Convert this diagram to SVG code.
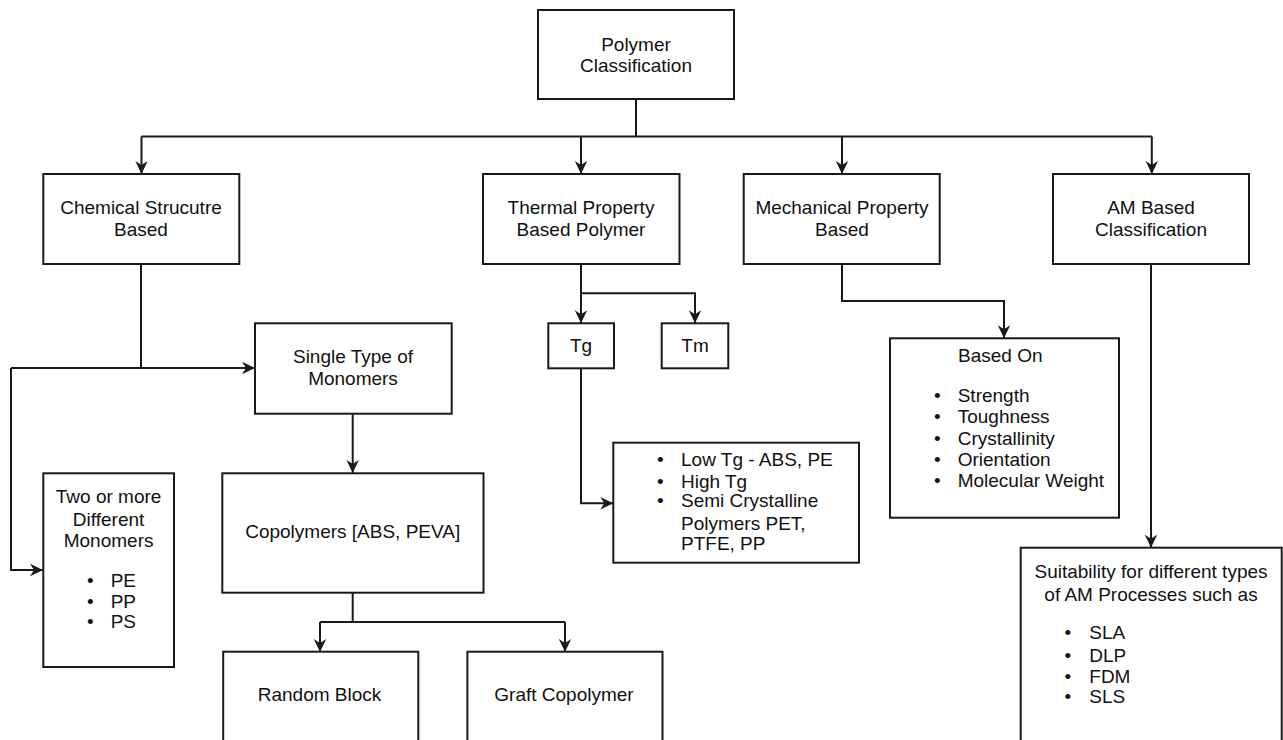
<svg xmlns="http://www.w3.org/2000/svg" width="1283" height="740" viewBox="0 0 1283 740">
<style>
.box{fill:#fff;stroke:#1a1a1a;stroke-width:2}
.t{font-family:"Liberation Sans",Arial,sans-serif;font-size:19px;fill:#111;text-anchor:middle}
.l{font-family:"Liberation Sans",Arial,sans-serif;font-size:19px;fill:#111}
.c{fill:none;stroke:#1a1a1a;stroke-width:2}
</style>
<defs>
<marker id="arr" markerUnits="userSpaceOnUse" markerWidth="14" markerHeight="14" viewBox="0 0 14 14" refX="13" refY="7" orient="auto">
<path d="M0,0.8 L13,7 L0,13.2 L4,7 z" fill="#1a1a1a"/>
</marker>
</defs>
<rect width="1283" height="740" fill="#fff"/>
<g id="connectors">
<path class="c" d="M636,99 V136.5"/>
<path class="c" d="M141.5,136.5 H1151.8"/>
<path class="c" d="M141.5,136.5 V174" marker-end="url(#arr)"/>
<path class="c" d="M581,136.5 V174" marker-end="url(#arr)"/>
<path class="c" d="M842,136.5 V174" marker-end="url(#arr)"/>
<path class="c" d="M1151.8,136.5 V174" marker-end="url(#arr)"/>
<path class="c" d="M141,264 V368"/>
<path class="c" d="M11,368 H255" marker-end="url(#arr)"/>
<path class="c" d="M11,368 V570 H43" marker-end="url(#arr)"/>
<path class="c" d="M352.7,414 V473" marker-end="url(#arr)"/>
<path class="c" d="M352.7,593 V622"/>
<path class="c" d="M320,622 H565"/>
<path class="c" d="M320,622 V652" marker-end="url(#arr)"/>
<path class="c" d="M565,622 V652" marker-end="url(#arr)"/>
<path class="c" d="M581,264 V323.3" marker-end="url(#arr)"/>
<path class="c" d="M581,293.3 H695 V323.3" marker-end="url(#arr)"/>
<path class="c" d="M581,368.3 V503.3 H613.3" marker-end="url(#arr)"/>
<path class="c" d="M842,264 V301 H1004 V338.3" marker-end="url(#arr)"/>
<path class="c" d="M1151,264 V547.7" marker-end="url(#arr)"/>
</g>
<g id="polymer">
<rect class="box" x="538" y="10" width="196" height="89"/>
<text class="t" x="636" y="50.5">Polymer</text>
<text class="t" x="636" y="72">Classification</text>
</g>
<g id="chemical">
<rect class="box" x="43.3" y="174" width="196" height="90"/>
<text class="t" x="141" y="213.5">Chemical Strucutre</text>
<text class="t" x="141" y="236">Based</text>
</g>
<g id="thermal">
<rect class="box" x="483" y="174" width="196.5" height="90"/>
<text class="t" x="581" y="213.5">Thermal Property</text>
<text class="t" x="581" y="236">Based Polymer</text>
</g>
<g id="mechanical">
<rect class="box" x="743.7" y="174" width="196" height="90"/>
<text class="t" x="842" y="213.5">Mechanical Property</text>
<text class="t" x="842" y="236">Based</text>
</g>
<g id="am">
<rect class="box" x="1053" y="174" width="196" height="90"/>
<text class="t" x="1151" y="213.5">AM Based</text>
<text class="t" x="1151" y="236">Classification</text>
</g>
<g id="single">
<rect class="box" x="255" y="323.3" width="196.7" height="90.4"/>
<text class="t" x="353" y="362.7">Single Type of</text>
<text class="t" x="353" y="385">Monomers</text>
</g>
<g id="twoormore">
<rect class="box" x="43.3" y="473.3" width="130.7" height="193.7"/>
<text class="t" x="108.6" y="503.3">Two or more</text>
<text class="t" x="108.6" y="525.7">Different</text>
<text class="t" x="108.6" y="547.3">Monomers</text>
<text class="l" x="87" y="587.3">•</text><text class="l" x="110.7" y="587.3">PE</text>
<text class="l" x="87" y="608.3">•</text><text class="l" x="110.7" y="608.3">PP</text>
<text class="l" x="87" y="628.3">•</text><text class="l" x="110.7" y="628.3">PS</text>
</g>
<g id="copolymers">
<rect class="box" x="222.3" y="473.3" width="261.2" height="119.4"/>
<text class="t" x="352.7" y="538.3">Copolymers [ABS, PEVA]</text>
</g>
<g id="random">
<rect class="box" x="223.2" y="651.7" width="195.1" height="100"/>
<text class="t" x="319.5" y="700.7">Random Block</text>
</g>
<g id="graft">
<rect class="box" x="467.4" y="651.7" width="195.1" height="100"/>
<text class="t" x="564" y="700.7">Graft Copolymer</text>
</g>
<g id="tg">
<rect class="box" x="548.3" y="323.3" width="65.7" height="45"/>
<text class="t" x="581" y="352">Tg</text>
</g>
<g id="tm">
<rect class="box" x="661.7" y="323.3" width="66.6" height="45"/>
<text class="t" x="695" y="352">Tm</text>
</g>
<g id="tglist">
<rect class="box" x="613.3" y="442.7" width="245.7" height="120"/>
<text class="l" x="657" y="466">•</text><text class="l" x="681" y="466">Low Tg - ABS, PE</text>
<text class="l" x="657" y="487.7">•</text><text class="l" x="681" y="487.7">High Tg</text>
<text class="l" x="657" y="507.3">•</text><text class="l" x="681" y="507.3">Semi Crystalline</text>
<text class="l" x="681" y="530">Polymers PET,</text>
<text class="l" x="681" y="550">PTFE, PP</text>
</g>
<g id="basedon">
<rect class="box" x="890" y="338.3" width="229" height="179.4"/>
<text class="t" x="1000.3" y="361.7">Based On</text>
<text class="l" x="934" y="401.7">•</text><text class="l" x="957.7" y="401.7">Strength</text>
<text class="l" x="934" y="422.7">•</text><text class="l" x="957.7" y="422.7">Toughness</text>
<text class="l" x="934" y="445">•</text><text class="l" x="957.7" y="445">Crystallinity</text>
<text class="l" x="934" y="466">•</text><text class="l" x="957.7" y="466">Orientation</text>
<text class="l" x="934" y="486.7">•</text><text class="l" x="957.7" y="486.7">Molecular Weight</text>
</g>
<g id="suitability">
<rect class="box" x="1020.7" y="547.7" width="261" height="200"/>
<text class="t" x="1151" y="578.3">Suitability for different types</text>
<text class="t" x="1151" y="600.7">of AM Processes such as</text>
<text class="l" x="1064.5" y="639.3">•</text><text class="l" x="1089.3" y="639.3">SLA</text>
<text class="l" x="1064.5" y="661.7">•</text><text class="l" x="1089.3" y="661.7">DLP</text>
<text class="l" x="1064.5" y="682.7">•</text><text class="l" x="1089.3" y="682.7">FDM</text>
<text class="l" x="1064.5" y="702.7">•</text><text class="l" x="1089.3" y="702.7">SLS</text>
</g>
</svg>
